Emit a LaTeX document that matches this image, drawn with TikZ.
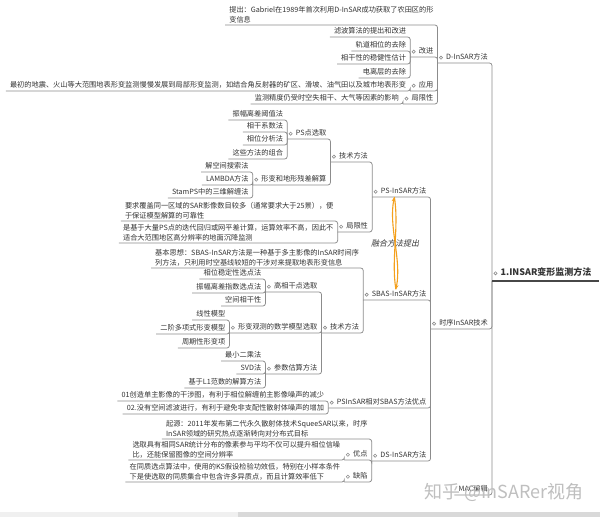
\documentclass[tikz,border=0pt]{standalone}
\usepackage{fontspec}
\setmainfont{Noto Sans CJK SC}
\newfontfamily\slantcjk{Noto Sans CJK SC}[FakeSlant=0.22]
\usetikzlibrary{arrows.meta}
\definecolor{ink}{HTML}{333333}
\definecolor{wire}{HTML}{8C8C8C}
\definecolor{fuseorange}{HTML}{F4A01C}

\begin{document}
\begin{tikzpicture}[
    x=1pt, y=-1pt,
    every node/.style={font=\fontsize{7.2}{10}\selectfont, text=ink},
    topic/.style={anchor=south east, inner xsep=4pt, inner ysep=1.5pt},
    leaf/.style={topic, text height=5.6pt, text depth=1.6pt},
    note/.style={topic, align=left},
    branch/.style={leaf, execute at begin node={\hspace*{4.5pt}}},
    link/.style={draw=wire, line width=0.75pt, rounded corners=2.5pt},
    knob/.style={draw=wire, line width=0.6pt, fill=white},
    fuse/.style={draw=fuseorange, line width=1.1pt}
]
\fill[white] (0,0) rectangle (600,517);
\useasboundingbox (0,0) rectangle (600,517);

% root
\node[branch, anchor=south west, font=\bfseries\fontsize{9}{11}\selectfont,
      text height=7pt, text depth=2pt, inner ysep=3pt, text width=99pt] (root) at (492,281) {1.INSAR变形监测方法};

% D-InSAR
\node[branch] (dinsar) at (root.south west |- 0,63) {D-InSAR方法};
\node[note, text width=204pt] (tichu) at (dinsar.south west |- 0,25) {\mbox{提出：Gabriel在1989年首次利用D-InSAR成功获取了农田区的形}\\变信息};
\node[branch] (gaijin) at (dinsar.south west |- 0,57) {改进};
\node[leaf] (gj1) at (gaijin.south west |- 0,37) {滤波算法的提出和改进};
\node[leaf] (gj2) at (gaijin.south west |- 0,51) {轨道相位的去除};
\node[leaf] (gj3) at (gaijin.south west |- 0,64) {相干性的稳健性估计};
\node[leaf] (gj4) at (gaijin.south west |- 0,78) {电离层的去除};
\node[branch] (yingyong) at (dinsar.south west |- 0,91) {应用};
\node[leaf] (yy1) at (yingyong.south west |- 0,91) {最初的地震、火山等大范围地表形变监测慢慢发展到局部形变监测，如结合角反射器的矿区、滑坡、油气田以及城市地表形变};
\node[branch] (dlimit) at (dinsar.south west |- 0,104) {局限性};
\node[leaf] (dl1) at (dlimit.south west |- 0,104) {监测精度仍受时空失相干、大气等因素的影响};

% time series InSAR
\node[branch] (shixu) at (root.south west |- 0,329) {时序InSAR技术};

\node[branch] (psin) at (shixu.south west |- 0,197) {PS-InSAR方法};
\node[branch] (pstech) at (psin.south west |- 0,162) {技术方法};
\node[branch] (psxq) at (pstech.south west |- 0,139) {PS点选取};
\node[leaf] (px1) at (psxq.south west |- 0,120) {振幅离差阈值法};
\node[leaf] (px2) at (psxq.south west |- 0,132) {相干系数法};
\node[leaf] (px3) at (psxq.south west |- 0,145) {相位分析法};
\node[leaf] (px4) at (psxq.south west |- 0,159) {这些方法的组合};
\node[branch] (pscal) at (pstech.south west |- 0,185) {形变和地形残差解算};
\node[leaf] (pc1) at (pscal.south west |- 0,172) {解空间搜索法};
\node[leaf] (pc2) at (pscal.south west |- 0,185) {LAMBDA方法};
\node[leaf] (pc3) at (pscal.south west |- 0,198) {StamPS中的三维解缠法};
\node[branch] (pslim) at (psin.south west |- 0,232) {局限性};
\node[note] (pl1) at (pslim.south west |- 0,221) {要求覆盖同一区域的SAR影像数目较多（通常要求大于25景），便\\于保证模型解算的可靠性};
\node[note] (pl2) at (pslim.south west |- 0,243) {是基于大量PS点的迭代回归或网平差计算，运算效率不高，因此不\\适合大范围地区高分辨率的地面沉降监测};

\node[branch] (sbas) at (shixu.south west |- 0,300) {SBAS-InSAR方法};
\node[note] (sb0) at (sbas.south west |- 0,268) {基本思想：SBAS-InSAR方法是一种基于多主影像的InSAR时间序\\列方法，只利用时空基线较短的干涉对来提取地表形变信息};
\node[branch] (sbtech) at (sbas.south west |- 0,333) {技术方法};
\node[branch] (sbpick) at (sbtech.south west |- 0,292) {高相干点选取};
\node[leaf] (sp1) at (sbpick.south west |- 0,279) {相位稳定性选点法};
\node[leaf] (sp2) at (sbpick.south west |- 0,293) {振幅离差指数选点法};
\node[leaf] (sp3) at (sbpick.south west |- 0,306) {空间相干性};
\node[branch] (sbmodel) at (sbtech.south west |- 0,333) {形变观测的数学模型选取};
\node[leaf] (sm1) at (sbmodel.south west |- 0,320) {线性模型};
\node[leaf] (sm2) at (sbmodel.south west |- 0,334) {二阶多项式形变模型};
\node[leaf] (sm3) at (sbmodel.south west |- 0,348) {周期性形变项};
\node[branch] (sbest) at (sbtech.south west |- 0,374) {参数估算方法};
\node[leaf] (se1) at (sbest.south west |- 0,361) {最小二乘法};
\node[leaf] (se2) at (sbest.south west |- 0,374) {SVD法};
\node[leaf] (se3) at (sbest.south west |- 0,388) {基于L1范数的解算方法};

\node[branch] (pvs) at (shixu.south west |- 0,408) {PSInSAR相对SBAS方法优点};
\node[leaf] (pv1) at (pvs.south west |- 0,401) {01创造单主影像的干涉图，有利于相位解缠前主影像噪声的减少};
\node[leaf] (pv2) at (pvs.south west |- 0,414) {02.没有空间滤波进行，有利于避免非支配性散射体噪声的增加};

\node[branch] (dsin) at (shixu.south west |- 0,461) {DS-InSAR方法};
\node[note] (ds0) at (dsin.south west |- 0,439) {起源：2011年发布第二代永久散射体技术SqueeSAR以来，时序\\InSAR领域的研究热点逐渐转向对分布式目标};
\node[branch] (dsgood) at (dsin.south west |- 0,460) {优点};
\node[note] (dg1) at (dsgood.south west |- 0,460) {选取具有相同SAR统计分布的像素参与平均不仅可以提升相位信噪\\比，还能保留图像的空间分辨率};
\node[branch] (dsbad) at (dsin.south west |- 0,482) {缺陷};
\node[note] (db1) at (dsbad.south west |- 0,482) {在同质选点算法中，使用的KS假设检验功效低，特别在小样本条件\\下是使选取的同质集合中包含许多异质点，而且计算效率低下};

\node[leaf] (mac) at (root.south west |- 0,495) {MAC编辑};

% connectors
\foreach \kid/\mum in {dinsar/root, shixu/root, mac/root,
    tichu/dinsar, gaijin/dinsar, yingyong/dinsar, dlimit/dinsar,
    gj1/gaijin, gj2/gaijin, gj3/gaijin, gj4/gaijin, yy1/yingyong, dl1/dlimit,
    psin/shixu, sbas/shixu, pvs/shixu, dsin/shixu,
    pstech/psin, pslim/psin, psxq/pstech, pscal/pstech,
    px1/psxq, px2/psxq, px3/psxq, px4/psxq, pc1/pscal, pc2/pscal, pc3/pscal,
    pl1/pslim, pl2/pslim,
    sb0/sbas, sbtech/sbas, sbpick/sbtech, sbmodel/sbtech, sbest/sbtech,
    sp1/sbpick, sp2/sbpick, sp3/sbpick, sm1/sbmodel, sm2/sbmodel, sm3/sbmodel,
    se1/sbest, se2/sbest, se3/sbest,
    pv1/pvs, pv2/pvs,
    ds0/dsin, dsgood/dsin, dsbad/dsin, dg1/dsgood, db1/dsbad}
  \draw[link] (\kid.south west) -- (\kid.south east) -- (\mum.south west);
\draw[line width=1.8pt, draw=ink!90] (root.south west) -- (root.south east);

\foreach \n in {root, dinsar, gaijin, yingyong, dlimit, shixu, psin, pstech, psxq, pscal,
    pslim, sbas, sbtech, sbpick, sbmodel, sbest, pvs, dsin, dsgood, dsbad}
  \draw[knob] ([xshift=3.5pt]\n.west) circle (1.6pt);

% relation
\draw[fuse, {Stealth[length=4.5pt,width=3.6pt]}-{Stealth[length=4.5pt,width=3.6pt]}]
  ([xshift=-7pt]psin.south) .. controls +(-6,30) and +(6,-30) .. ([xshift=-1pt]sbas.north)
  node[midway, font=\slantcjk\fontsize{8}{9}\selectfont] (fuselbl) {融合方法提出};
\draw[fuse] ([xshift=-7pt]psin.south) .. controls +(5,30) and +(-5,-30) .. ([xshift=-1pt]sbas.north);

\node[text=black!25, font=\fontsize{18}{20}\selectfont] (wmark) at (504,492) {知乎 @InSARer视角};

\fill[black!6] (0,512) rectangle (600,517);
\fill[black!15] (238,512) rectangle (600,517);
\end{tikzpicture}
\end{document}
